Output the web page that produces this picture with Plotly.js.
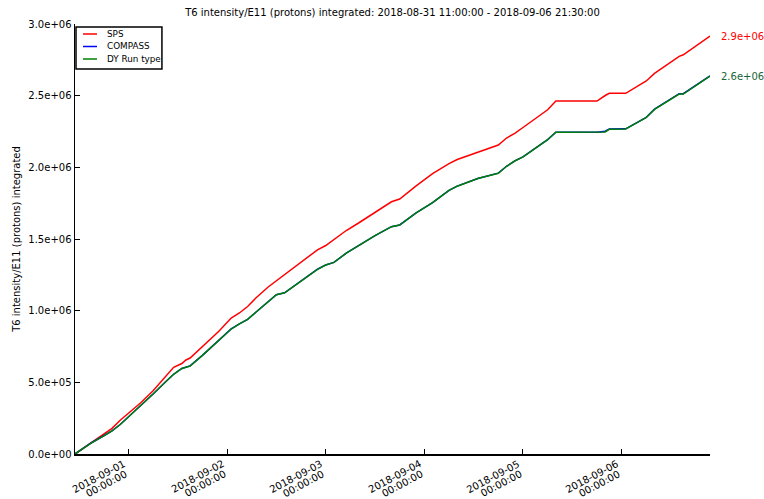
<!DOCTYPE html>
<html>
<head>
<meta charset="utf-8">
<script src="https://cdn.plot.ly/plotly-3.0.1.min.js"></script>
<style>html,body{margin:0;padding:0;background:#fff;}#chart{width:764px;height:499px;}</style>
</head>
<body>
<div id="chart"></div>
<script>
// ---- data ----
var times = [
  "2018-08-31 11:00","2018-08-31 15:00","2018-08-31 18:00","2018-08-31 20:00","2018-08-31 22:00",
  "2018-09-01 00:00","2018-09-01 03:00","2018-09-01 06:00","2018-09-01 09:00","2018-09-01 11:00",
  "2018-09-01 13:00","2018-09-01 14:00","2018-09-01 15:00","2018-09-01 18:00","2018-09-01 21:00",
  "2018-09-01 22:00","2018-09-02 01:00","2018-09-02 03:00","2018-09-02 05:00","2018-09-02 07:00",
  "2018-09-02 10:00","2018-09-02 12:00","2018-09-02 14:00","2018-09-02 18:00","2018-09-02 22:00",
  "2018-09-03 00:00","2018-09-03 02:00","2018-09-03 05:00","2018-09-03 08:00","2018-09-03 12:00",
  "2018-09-03 16:00","2018-09-03 18:00","2018-09-03 22:00","2018-09-04 02:00","2018-09-04 06:00",
  "2018-09-04 08:00","2018-09-04 13:00","2018-09-04 18:00","2018-09-04 20:00","2018-09-04 22:00",
  "2018-09-05 00:00","2018-09-05 04:00","2018-09-05 06:00","2018-09-05 08:00","2018-09-05 18:00",
  "2018-09-05 20:00","2018-09-05 21:00","2018-09-06 01:00","2018-09-06 03:00","2018-09-06 06:00",
  "2018-09-06 08:00","2018-09-06 14:00","2018-09-06 15:00","2018-09-06 21:30"
];
var sps = [
  0, 80200, 144400, 179300, 235800,
  282600, 357900, 441600, 537200, 604900,
  631400, 655800, 669800, 752100, 833700,
  856700, 948800, 983700, 1029100, 1088400,
  1165100, 1208400, 1248800, 1337400, 1424600,
  1454600, 1497200, 1559300, 1611600, 1683500,
  1759500, 1779000, 1871100, 1955600, 2026000,
  2054600, 2102700, 2155800, 2204600, 2236700,
  2277900, 2360200, 2401400, 2462700, 2462700,
  2501100, 2516400, 2516400, 2551300, 2602300,
  2655300, 2774600, 2785100, 2916300
];
var compass = [
  0, 78500, 127500, 161000, 206000,
  258500, 341500, 419000, 502500, 556500,
  597000, 605000, 614500, 688000, 766500,
  790000, 872500, 908500, 939500, 989000,
  1065500, 1111500, 1125000, 1207500, 1289000,
  1319000, 1337000, 1401000, 1454500, 1523500,
  1586000, 1598000, 1682500, 1754500, 1839500,
  1869000, 1922500, 1959500, 2007500, 2044500,
  2073500, 2153500, 2193500, 2245000, 2245000,
  2252000, 2268000, 2269000, 2302000, 2349000,
  2406000, 2514000, 2514000, 2638000
];
var dyRunType = [
  0, 78000, 127000, 160500, 205800,
  258100, 341200, 418600, 502300, 556000,
  596500, 604900, 614000, 687900, 766000,
  789800, 872100, 908400, 939100, 988600,
  1065300, 1111400, 1124600, 1207000, 1288600,
  1318600, 1336700, 1400900, 1453900, 1523000,
  1585800, 1597700, 1682100, 1753900, 1839100,
  1868400, 1922100, 1959100, 2007200, 2044200,
  2072800, 2153000, 2192800, 2244400, 2244400,
  2246500, 2265400, 2267500, 2300200, 2347700,
  2404200, 2511600, 2511600, 2637200
];
var seriesNames = ["SPS", "COMPASS", "DY Run type"];
var xTickVals = ["2018-09-01 00:00","2018-09-02 00:00","2018-09-03 00:00","2018-09-04 00:00","2018-09-05 00:00","2018-09-06 00:00"];
var xTickDateLabels = ["2018-09-01","2018-09-02","2018-09-03","2018-09-04","2018-09-05","2018-09-06"];
var xTickTimeLabels = ["00:00:00","00:00:00","00:00:00","00:00:00","00:00:00","00:00:00"];
var yTickVals = [0, 500000, 1000000, 1500000, 2000000, 2500000, 3000000];
var yTickLabels = ["0.0e+00","5.0e+05","1.0e+06","1.5e+06","2.0e+06","2.5e+06","3.0e+06"];
var xRange = ["2018-08-31 11:00", "2018-09-06 21:30"];
var titleText = "T6 intensity/E11 (protons) integrated: 2018-08-31 11:00:00 - 2018-09-06 21:30:00";
var yTitleText = "T6 intensity/E11 (protons) integrated";

// ---- styling ----
var colors = ["#ff0000", "#0000ff", "#008000"];
var allSeries = [sps, compass, dyRunType];
var FONT = "DejaVu Sans, sans-serif";

var W = 764, H = 499;
var M = {l: 75, r: 53.5, t: 24, b: 45};
var PW = W - M.l - M.r, PH = H - M.t - M.b;
function px(x) { return (x - M.l) / PW; }
function py(y) { return (H - M.b - y) / PH; }

var traces = allSeries.map(function (s, i) {
  return {
    x: times, y: s, type: "scatter", mode: "lines", name: seriesNames[i],
    line: {color: colors[i], width: 1.5}, showlegend: false, hoverinfo: "skip"
  };
});

function fmtE(v) {
  var e = Math.floor(Math.log10(v));
  var m = (v / Math.pow(10, e)).toFixed(1);
  return m + "e+" + (e < 10 ? "0" + e : e);
}

var annotations = [];
var shapes = [];
// end-value labels (COMPASS label coincides with DY Run type label)
[0, 2].forEach(function (i) {
  var s = allSeries[i];
  annotations.push({
    xref: "paper", x: 1, xshift: 9, xanchor: "left",
    yref: "y", y: s[s.length - 1], yanchor: "middle",
    text: fmtE(s[s.length - 1]), showarrow: false,
    font: {family: FONT, size: 10, color: i === 2 ? "#17663a" : colors[i]}
  });
});
// x tick labels (rotated, right-aligned at the tick), one annotation per line
var ANG = -28;
xTickVals.forEach(function (v, i) {
  annotations.push({
    xref: "x", x: v, yref: "paper", y: 0, yshift: -3, xshift: 0,
    xanchor: "right", yanchor: "top", borderpad: 0,
    textangle: ANG, text: xTickDateLabels[i], showarrow: false,
    font: {family: FONT, size: 10, color: "#000"}
  });
  annotations.push({
    xref: "x", x: v, yref: "paper", y: 0, yshift: -13, xshift: 2,
    xanchor: "right", yanchor: "top", borderpad: 0,
    textangle: ANG, text: xTickTimeLabels[i], showarrow: false,
    font: {family: FONT, size: 10, color: "#000"}
  });
});
// legend box
shapes.push({type: "rect", xref: "paper", yref: "paper",
  x0: px(76), x1: px(162), y0: py(69), y1: py(27),
  line: {color: "#000", width: 1.5}, fillcolor: "#fff", layer: "above"});
var legY = [34, 46.5, 59];
seriesNames.forEach(function (n, i) {
  shapes.push({type: "line", xref: "paper", yref: "paper",
    x0: px(83), x1: px(97), y0: py(legY[i]), y1: py(legY[i]),
    line: {color: colors[i], width: 1.5}, layer: "above"});
  annotations.push({xref: "paper", yref: "paper", x: px(105), y: py(legY[i]),
    xanchor: "left", yanchor: "middle", text: n, showarrow: false,
    font: {family: FONT, size: 8.8, color: "#000"}});
});

var layout = {
  width: W, height: H,
  margin: M,
  paper_bgcolor: "#fff", plot_bgcolor: "#fff",
  font: {family: FONT, size: 10, color: "#000"},
  title: {text: titleText, x: 0.5, xref: "paper", y: 1 - 12 / H, yref: "container",
    xanchor: "center", yanchor: "middle", font: {family: FONT, size: 10, color: "#000"}},
  xaxis: {
    type: "date", range: xRange, showgrid: false, zeroline: false,
    showline: true, linecolor: "#000", linewidth: 1.5, mirror: false,
    ticks: "inside", ticklen: 5, tickwidth: 1, tickcolor: "#000",
    tickmode: "array", tickvals: xTickVals, showticklabels: false
  },
  yaxis: {
    range: [0, 3000000], showgrid: false, zeroline: false,
    showline: true, linecolor: "#000", linewidth: 1.5, mirror: false,
    ticks: "inside", ticklen: 5, tickwidth: 1, tickcolor: "#000",
    tickmode: "array", tickvals: yTickVals, ticktext: yTickLabels,
    tickfont: {family: FONT, size: 10, color: "#000"},
    title: {text: yTitleText, font: {family: FONT, size: 10, color: "#000"}, standoff: 6}
  },
  annotations: annotations,
  shapes: shapes,
  showlegend: false
};

Plotly.newPlot("chart", traces, layout, {staticPlot: true, displayModeBar: false});
</script>
</body>
</html>
